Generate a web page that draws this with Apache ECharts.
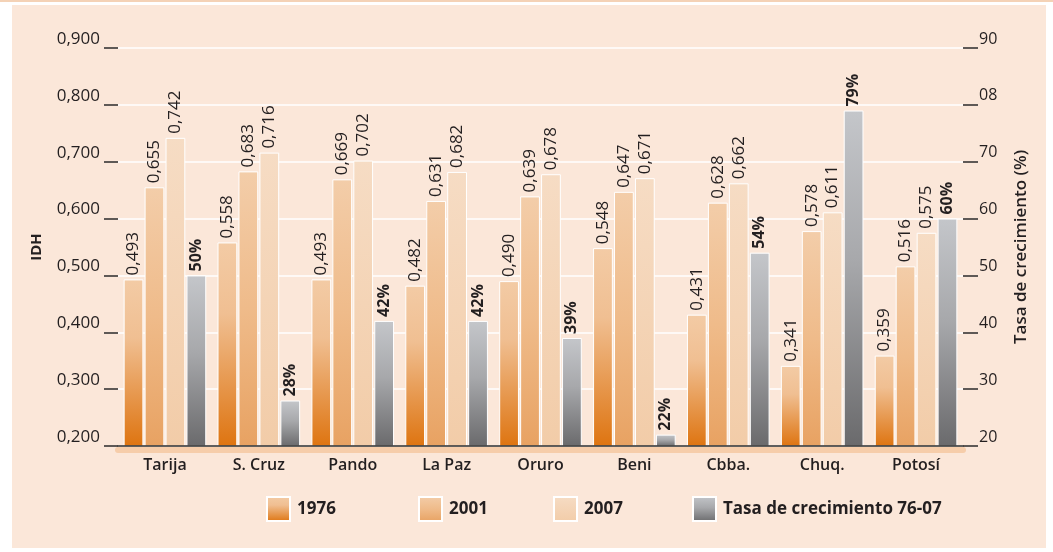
<!DOCTYPE html>
<html>
<head>
<meta charset="utf-8">
<script src="https://cdn.jsdelivr.net/npm/echarts@6/dist/echarts.min.js"></script>
<style>
  html, body { margin: 0; padding: 0; background: #ffffff; }
  #wrap { position: relative; width: 1053px; height: 552px; overflow: hidden; }
  #topline { position: absolute; left: 0; top: 0; width: 1053px; height: 2px; background: #f4d2b6; }
  #panel { position: absolute; left: 12px; top: 5px; width: 1034px; height: 543px; background: #fbe7d9; }
  #chart { position: absolute; left: 0; top: 0; width: 1053px; height: 552px; }
</style>
</head>
<body>
<div id="wrap">
  <div id="topline"></div>
  <div id="panel"></div>
  <div id="chart"></div>
</div>
<script>
// ---- data ----
const categories = ['Tarija', 'S. Cruz', 'Pando', 'La Paz', 'Oruro', 'Beni', 'Cbba.', 'Chuq.', 'Potosí'];
const idh1976 = [0.493, 0.558, 0.493, 0.482, 0.490, 0.548, 0.431, 0.341, 0.359];
const idh2001 = [0.655, 0.683, 0.669, 0.631, 0.639, 0.647, 0.628, 0.578, 0.516];
const idh2007 = [0.742, 0.716, 0.702, 0.682, 0.678, 0.671, 0.662, 0.611, 0.575];
const tasa = [50, 28, 42, 42, 39, 22, 54, 79, 60];
const seriesNames = ['1976', '2001', '2007', 'Tasa de crecimiento 76-07'];
const leftTickLabels = ['0,200', '0,300', '0,400', '0,500', '0,600', '0,700', '0,800', '0,900'];
const rightTickLabels = ['20', '30', '40', '50', '60', '70', '08', '90'];
const leftAxisName = 'IDH';
const rightAxisName = 'Tasa de crecimiento (%)';

const FONT = '"Open Sans", "DejaVu Sans", sans-serif';
const TXT = '#231f20';

function grad(stops) {
  return new echarts.graphic.LinearGradient(0, 0, 0, 1,
    stops.map(s => ({ offset: s[0], color: s[1] })));
}
const colors = [
  grad([[0, '#f3cba5'], [0.35, '#f0bf92'], [1, '#de7410']]),
  grad([[0, '#f3cda9'], [0.5, '#efbb8a'], [1, '#e8a262']]),
  grad([[0, '#f6dcc4'], [1, '#f2cca8']]),
  grad([[0, '#c4c6ca'], [0.45, '#a7a8ab'], [1, '#6a6a6c']])
];

const idhLabel = {
  show: true, position: 'top', rotate: 90, align: 'left', verticalAlign: 'middle',
  distance: 4, fontFamily: FONT, fontSize: 17, color: TXT,
  formatter: p => p.value.toFixed(3).replace('.', ',')
};

function barSeries(i, data) {
  return {
    name: seriesNames[i], type: 'bar', data: data, xAxisIndex: 0, yAxisIndex: 0,
    barGap: '6%', barCategoryGap: '12%',
    itemStyle: { color: colors[i], borderColor: '#ffffff', borderWidth: 1 },
    label: idhLabel
  };
}

const legendLefts = [261, 413, 548, 687];
const legends = seriesNames.map((n, i) => ({
  data: [{ name: n, icon: 'rect' }], left: legendLefts[i], top: 491, itemWidth: 23, itemHeight: 24,
  textStyle: { fontFamily: FONT, fontSize: 17, fontWeight: 'bold', color: TXT, padding: [0, 0, 0, 2] },
  selectedMode: false
}));

const chart = echarts.init(document.getElementById('chart'), null, { renderer: 'canvas' });
chart.setOption({
  backgroundColor: 'transparent',
  animation: false,
  legend: legends,
  grid: { left: 118, right: 90, top: 48, bottom: 106, containLabel: false },
  xAxis: [
    {
      type: 'category', data: categories, position: 'bottom', z: 5,
      axisLine: { show: true, lineStyle: { color: '#2b2b2b', width: 1.5 } },
      axisTick: { show: false },
      axisLabel: { margin: 11, fontFamily: FONT, fontSize: 16, fontWeight: 600, color: TXT }
    },
    {
      type: 'category', data: categories, position: 'bottom', offset: 4, z: 1,
      axisLine: { show: true, lineStyle: { color: '#f6cdaa', width: 6 } },
      axisTick: { show: false }, axisLabel: { show: false }
    }
  ],
  yAxis: [
    {
      type: 'value', min: 0.2, max: 0.9, interval: 0.1, position: 'left',
      name: leftAxisName, nameLocation: 'middle', nameGap: 74, nameRotate: 90,
      nameTextStyle: { fontFamily: FONT, fontSize: 15, fontWeight: 'bold', color: TXT },
      axisLine: { show: false },
      axisTick: { show: true, inside: false, length: 14, lineStyle: { color: '#2b2b2b', width: 1.5 } },
      axisLabel: {
        margin: 18, fontFamily: FONT, fontSize: 17, fontWeight: 500, color: TXT, verticalAlign: 'bottom', lineHeight: 18,
        formatter: (v) => leftTickLabels[Math.round((v - 0.2) * 10)] || ''
      },
      splitLine: { show: true, lineStyle: { color: '#ffffff', width: 1.5 } }
    },
    {
      type: 'value', min: 20, max: 90, interval: 10, position: 'right',
      name: rightAxisName, nameLocation: 'middle', nameGap: 50, nameRotate: 90,
      nameTextStyle: { fontFamily: FONT, fontSize: 17, fontWeight: 600, color: TXT },
      axisLine: { show: false },
      axisTick: { show: true, inside: false, length: 15, lineStyle: { color: '#2b2b2b', width: 1.5 } },
      axisLabel: {
        margin: 16, fontFamily: FONT, fontSize: 16, fontWeight: 500, color: TXT, verticalAlign: 'bottom', lineHeight: 18,
        formatter: (v) => rightTickLabels[Math.round((v - 20) / 10)] || ''
      },
      splitLine: { show: false }
    }
  ],
  series: [
    barSeries(0, idh1976),
    barSeries(1, idh2001),
    barSeries(2, idh2007),
    {
      name: seriesNames[3], type: 'bar', data: tasa, xAxisIndex: 0, yAxisIndex: 1,
      barGap: '6%', barCategoryGap: '12%',
      itemStyle: { color: colors[3], borderColor: '#ffffff', borderWidth: 1 },
      label: {
        show: true, position: 'top', rotate: 90, align: 'left', verticalAlign: 'middle',
        distance: 4, fontFamily: FONT, fontSize: 16, fontWeight: 'bold', color: TXT,
        formatter: p => p.value + '%'
      }
    }
  ]
});
</script>
</body>
</html>
